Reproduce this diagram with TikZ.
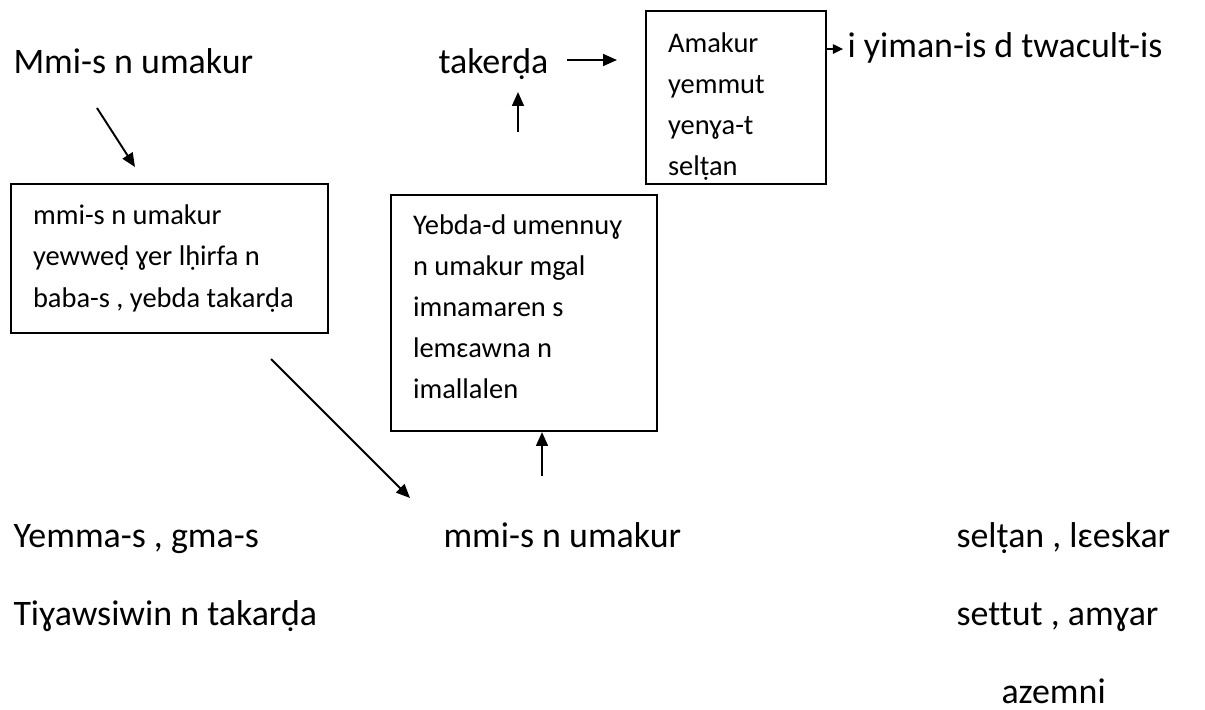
\documentclass[tikz,border=0pt]{standalone}
\usepackage{fontspec}
\setmainfont{Carlito}[Ligatures=NoCommon]
\usetikzlibrary{arrows.meta}

\tikzset{
  big/.style={anchor=base west,inner sep=0pt,font=\fontsize{14}{17}\selectfont},
  box/.style={draw,line width=0.8pt,anchor=north west,align=flush left,inner xsep=8.58pt,inner ysep=0pt,
    font=\fontsize{11.1}{16}\selectfont},
  arr/.style={-{Triangle[length=5.4pt,width=4.6pt]},line width=0.75pt}
}

\begin{document}
\begin{tikzpicture}[x=0.39pt,y=-0.39pt]
            \useasboundingbox (0,0) rectangle (1205,709);
            % top row
            \node[big] (M_1) at (13,73)  {Mmi-s n umakur};
            \node[big] (T_1) at (438,73) {takerḍa};
            \node[big] (Y_1) at (847,57) {i yiman-is d twacult-is};

            % boxes
            \node[box,text width=53.04pt,minimum height=67.47pt] (B_1) at (645,10)
                {\rule{0pt}{15pt}Amakur\\yemmut\\yenɣa-t\\selṭan};
            \node[box,text width=106.47pt,minimum height=58.11pt] (B_2) at (10,183)
                {mmi-s n umakur\\yewweḍ ɣer lḥirfa n\\baba-s , yebda takarḍa};
            \node[box,text width=86.58pt,minimum height=92.04pt] (B_3) at (390,194)
                {Yebda-d umennuɣ\\n umakur mgal\\imnamaren s\\lemɛawna n\\imallalen\rule[-5pt]{0pt}{5pt}};

            % bottom rows
            \node[big] (M_2) at (13,547)   {Yemma-s , gma-s};
            \node[big] (M_3) at (443,547)  {mmi-s n umakur};
            \node[big] (M_4) at (956,547)  {selṭan , lɛeskar};
            \node[big] (M_5) at (13,625)   {Tiɣawsiwin n takarḍa};
            \node[big] (M_6) at (956,625)  {settut , amɣar};
            \node[big] (M_7) at (1001,703) {azemni};

            % free ends of the arrows
            \coordinate (d_1) at (97,108);
            \coordinate (d_2) at (135,167);
            \coordinate (d_3) at (271,359);
            \coordinate (d_4) at (410,498);
            \coordinate (h_1) at (567,60);
            \coordinate (h_2) at (617,60);
            \coordinate (u_1) at (518,132);
            \coordinate (u_2) at (518,92);
            \coordinate (u_3) at (542,476);

            \draw[arr] (d_1) -- (d_2);
            \draw[arr] (d_3) -- (d_4);
            \draw[arr] (h_1) -- (h_2);
            \draw[arr] (u_1) -- (u_2);
            \draw[arr] (u_3) -- (u_3 |- B_3.south);
            \draw[-{Triangle[length=4pt,width=3.6pt]},line width=0.75pt]
                (B_1.east |- 0,49) -- ([xshift=-1.5pt]Y_1.west |- 0,49);
        \end{tikzpicture}
\end{document}
